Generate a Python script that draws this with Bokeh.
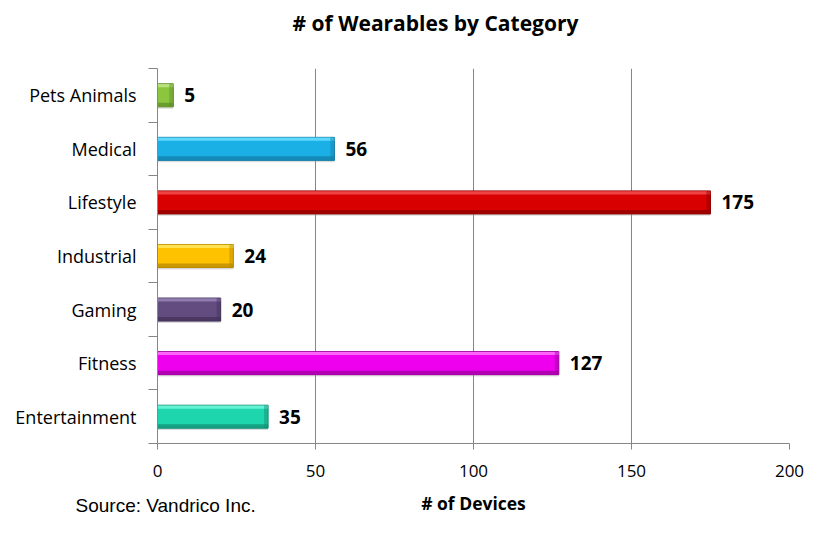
from bokeh.plotting import figure
from bokeh.models import FixedTicker, Label, LabelSet, ColumnDataSource, Range1d
from bokeh.embed import file_html
from bokeh.resources import INLINE
from bokeh.core.properties import value

# ---- data ----
categories = ["Entertainment", "Fitness", "Gaming", "Industrial", "Lifestyle", "Medical", "Pets Animals"]
devices = [35, 127, 20, 24, 175, 56, 5]
base_colors = ["#1ED6AE", "#EE00EE", "#634C80", "#FFC200", "#D80000", "#1AB0E6", "#8CC63F"]
light_colors = ["#6CF5D8", "#FF70FF", "#9580B2", "#FFE45A", "#F24A4A", "#66DBFF", "#BDE384"]
dark_colors = ["#138F74", "#A000A0", "#42325A", "#B88A00", "#8E0000", "#137FA8", "#5E8F28"]
x_ticks = [0, 50, 100, 150, 200]
title_text = "# of Wearables by Category"
x_title = "# of Devices"
source_text = "Source: Vandrico Inc."

pos = [i + 0.5 for i in range(len(categories))]
bar_h = 0.43
cap_w = 1.3  # width of the bevelled bar end, in axis units

src = ColumnDataSource(dict(
    cat=categories, val=devices, y=pos,
    base=base_colors, light=light_colors, dark=dark_colors,
    y_top=[p + bar_h / 2 - 0.035 for p in pos],
    y_bot=[p - bar_h / 2 + 0.04 for p in pos],
    y_sh=[p - 0.035 for p in pos],
    cap_left=[max(v - cap_w, 0) for v in devices],
    lbl=[str(v) for v in devices],
))

FONT = "Open Sans"

p = figure(width=811, height=538, output_backend="svg", toolbar_location=None,
           x_range=Range1d(0, 200), y_range=Range1d(0, len(categories)),
           min_border_left=157, min_border_right=22, min_border_top=68, min_border_bottom=95)
p.outline_line_color = None
p.background_fill_color = "white"
p.border_fill_color = "white"

# soft shadow under each bar
p.hbar(y="y_sh", right="val", left=0, height=bar_h, source=src,
       fill_color="#9A9A9A", fill_alpha=0.35, line_color=None)
# bars with a bevelled look
p.hbar(y="y", right="val", left=0, height=bar_h, source=src,
       fill_color="base", line_color="dark", line_width=1)
p.hbar(y="y_top", right="val", left=0, height=0.06, source=src,
       fill_color="light", line_color=None, fill_alpha=0.9)
p.hbar(y="y_bot", right="val", left=0, height=0.07, source=src,
       fill_color="dark", line_color=None, fill_alpha=0.75)
p.hbar(y="y", right="val", left="cap_left", height=bar_h, source=src,
       fill_color="dark", fill_alpha=0.45, line_color=None)

labels = LabelSet(x="val", y="y", text="lbl", source=src, x_offset=11,
                  text_baseline="middle", text_align="left",
                  text_font=value(FONT), text_font_style="bold", text_font_size="19px",
                  text_color="black")
p.add_layout(labels)

# grid
p.ygrid.grid_line_color = None
p.xgrid.grid_line_color = "#868686"
p.xgrid.grid_line_width = 1
p.xgrid.ticker = FixedTicker(ticks=x_ticks)

# x axis
p.xaxis.ticker = FixedTicker(ticks=x_ticks)
p.xaxis.axis_line_color = "#868686"
p.xaxis.major_tick_line_color = "#868686"
p.xaxis.major_tick_out = 6
p.xaxis.major_tick_in = 0
p.xaxis.minor_tick_line_color = None
p.xaxis.major_label_text_font = FONT
p.xaxis.major_label_text_font_size = "17px"
p.xaxis.major_label_text_color = "black"
p.xaxis.major_label_standoff = 15
p.xaxis.axis_label = x_title
p.xaxis.axis_label_text_font = FONT
p.xaxis.axis_label_text_font_size = "17.5px"
p.xaxis.axis_label_text_font_style = "bold"
p.xaxis.axis_label_text_color = "black"
p.xaxis.axis_label_standoff = 11

# y axis: labels at band centers, tick marks at band boundaries
p.yaxis.ticker = FixedTicker(ticks=pos, minor_ticks=list(range(len(categories) + 1)))
p.yaxis.major_label_overrides = {pp: c for pp, c in zip(pos, categories)}
p.yaxis.axis_line_color = "#868686"
p.yaxis.major_tick_line_color = None
p.yaxis.major_tick_out = 0
p.yaxis.major_tick_in = 0
p.yaxis.minor_tick_line_color = "#868686"
p.yaxis.minor_tick_out = 9
p.yaxis.minor_tick_in = 0
p.yaxis.major_label_text_font = FONT
p.yaxis.major_label_text_font_size = "18px"
p.yaxis.major_label_text_color = "black"
p.yaxis.major_label_standoff = 12

# title in the top panel
p.add_layout(Label(x=278, y=46, x_units="screen", y_units="screen", text=title_text,
                   text_align="center", text_baseline="middle", text_font=FONT,
                   text_font_style="bold", text_font_size="21px", text_color="black"), "above")

# source note placed in the bottom panel
p.add_layout(Label(x=-82, y=33, x_units="screen", y_units="screen", text=source_text,
                   text_align="left", text_baseline="middle", text_font="Liberation Sans",
                   text_font_size="19px", text_color="black"), "below")

open("out.html", "w").write(file_html(p, INLINE))
